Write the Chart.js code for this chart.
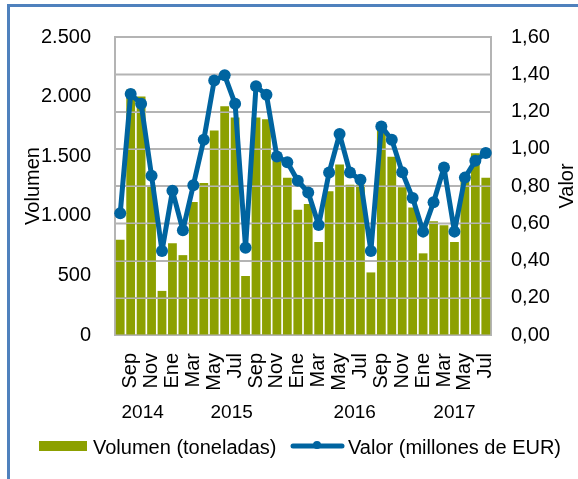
<!DOCTYPE html>
<html>
<head>
<meta charset="utf-8">
<script src="https://cdn.jsdelivr.net/npm/chart.js@4.4.1/dist/chart.umd.min.js"></script>
<style>
html,body{margin:0;padding:0;background:#fff;}
#wrap{position:relative;width:578px;height:479px;overflow:hidden;}
#frame{position:absolute;left:7px;top:4px;width:700px;height:700px;border-left:3px solid #4f81bd;border-top:3px solid #4f81bd;pointer-events:none;}
canvas{position:absolute;left:0;top:0;}
</style>
</head>
<body>
<div id="wrap">
<canvas id="c" width="578" height="479"></canvas>
<div id="frame"></div>
</div>
<script>
// ---- data ----
const months = ['Ago','Sep','Oct','Nov','Dic','Ene','Feb','Mar','Abr','May','Jun','Jul',
                'Ago','Sep','Oct','Nov','Dic','Ene','Feb','Mar','Abr','May','Jun','Jul',
                'Ago','Sep','Oct','Nov','Dic','Ene','Feb','Mar','Abr','May','Jun','Jul'];
const volumen = [800, 2060, 2000, 1250, 370, 770, 670, 1115, 1275, 1715, 1920, 1825,
                 495, 1825, 1810, 1460, 1320, 1050, 1100, 780, 1205, 1430, 1260, 1260,
                 525, 1720, 1495, 1240, 1070, 685, 955, 920, 780, 1330, 1525, 1320];
const valor = [0.654, 1.294, 1.241, 0.855, 0.451, 0.774, 0.563, 0.804, 1.048, 1.367, 1.394, 1.241,
               0.469, 1.335, 1.290, 0.958, 0.928, 0.828, 0.765, 0.591, 0.872, 1.079, 0.872, 0.833,
               0.451, 1.120, 1.048, 0.874, 0.735, 0.555, 0.713, 0.899, 0.555, 0.845, 0.935, 0.977];
const years = ['2014', '2015', '2016', '2017'];
const yearAt = [2.15, 10.67, 22.45, 32.0];
const seriesNames = ['Volumen (toneladas)', 'Valor (millones de EUR)'];
const yTitle = 'Volumen';
const y1Title = 'Valor';

const GREEN = '#8ca000';
const BLUE = '#0064a0';
const GRID = '#b4b4b4';
const FONT = '"Liberation Sans", Arial, sans-serif';

const overGrid = {
  id: 'overGrid',
  afterDatasetDraw(chart, args) {
    if (args.index !== 1) return;
    const s = chart.scales.y1, a = chart.chartArea, ctx = chart.ctx;
    ctx.save();
    ctx.strokeStyle = GRID; ctx.lineWidth = 1.5;
    s.ticks.forEach(t => {
      const y = Math.round(s.getPixelForValue(t.value)) + 0.25;
      ctx.beginPath(); ctx.moveTo(a.left, y); ctx.lineTo(a.right, y); ctx.stroke();
    });
    ctx.restore();
  }
};

const extras = {
  id: 'extras',
  afterDraw(chart) {
    const ctx = chart.ctx, x = chart.scales.x, a = chart.chartArea;
    ctx.save();
    ctx.fillStyle = '#000';
    ctx.font = '19px ' + FONT;
    ctx.textAlign = 'center'; ctx.textBaseline = 'middle';
    years.forEach((yr, i) => {
      ctx.fillText(yr, x.getPixelForValue(yearAt[i]), 413);
    });
    // right axis title
    ctx.save();
    ctx.translate(567, (a.top + a.bottom) / 2);
    ctx.rotate(-Math.PI / 2);
    ctx.font = '20px ' + FONT;
    ctx.fillText(y1Title, 0, 0);
    ctx.restore();
    // legend
    ctx.font = '20px ' + FONT;
    ctx.textAlign = 'left';
    ctx.fillStyle = GREEN;
    ctx.fillRect(39, 441, 48, 10);
    ctx.fillStyle = '#000';
    ctx.fillText(seriesNames[0], 93, 448);
    ctx.strokeStyle = BLUE; ctx.lineWidth = 5; ctx.lineCap = 'round';
    ctx.beginPath(); ctx.moveTo(293, 446); ctx.lineTo(342, 446); ctx.stroke();
    ctx.fillStyle = BLUE;
    ctx.beginPath(); ctx.arc(317, 445, 4, 0, Math.PI * 2); ctx.fill();
    ctx.fillStyle = '#000';
    ctx.fillText(seriesNames[1], 348, 448);
    ctx.restore();
  }
};

new Chart(document.getElementById('c'), {
  data: {
    labels: months,
    datasets: [
      {
        type: 'line', label: seriesNames[1], data: valor, yAxisID: 'y1', order: 0,
        borderColor: BLUE, backgroundColor: BLUE, borderWidth: 5,
        borderJoinStyle: 'round', borderCapStyle: 'round',
        pointRadius: 6, pointBackgroundColor: BLUE, pointBorderWidth: 0,
        tension: 0
      },
      {
        type: 'bar', label: seriesNames[0], data: volumen, yAxisID: 'y', order: 1,
        backgroundColor: GREEN, barPercentage: 0.84, categoryPercentage: 1.0
      }
    ]
  },
  options: {
    responsive: false, animation: false, devicePixelRatio: 1,
    layout: { padding: { top: 37, left: 0, right: 0, bottom: 0 } },
    plugins: { legend: { display: false }, tooltip: { enabled: false } },
    scales: {
      x: {
        offset: true,
        grid: { display: false },
        border: { display: true, color: GRID, width: 2 },
        ticks: {
          autoSkip: false, minRotation: 90, maxRotation: 90, padding: 10,
          color: '#000', font: { family: FONT, size: 20 },
          callback: (v, i) => (i % 2 === 1 ? months[i] : '')
        },
        afterFit: s => { s.height = 479 - 37 - 298; }
      },
      y: {
        position: 'left', min: 0, max: 2500,
        grid: { display: false },
        border: { display: true, color: GRID, width: 2 },
        ticks: {
          stepSize: 500, padding: 16, color: '#000', font: { family: FONT, size: 20 },
          callback: v => String(v).replace(/\B(?=(\d{3})+(?!\d))/g, '.')
        },
        title: { display: true, text: yTitle, color: '#000', font: { family: FONT, size: 20 }, padding: { top: 21, bottom: 0 } },
        afterFit: s => { s.width = 115; }
      },
      y1: {
        position: 'right', min: 0, max: 1.6,
        grid: { display: true, color: GRID, lineWidth: 1.5, drawTicks: false },
        border: { display: true, color: GRID, width: 2 },
        ticks: {
          stepSize: 0.2, padding: 20, color: '#000', font: { family: FONT, size: 20 },
          callback: v => v.toFixed(2).replace('.', ',')
        },
        afterFit: s => { s.width = 87; }
      }
    }
  },
  plugins: [overGrid, extras]
});
</script>
</body>
</html>
